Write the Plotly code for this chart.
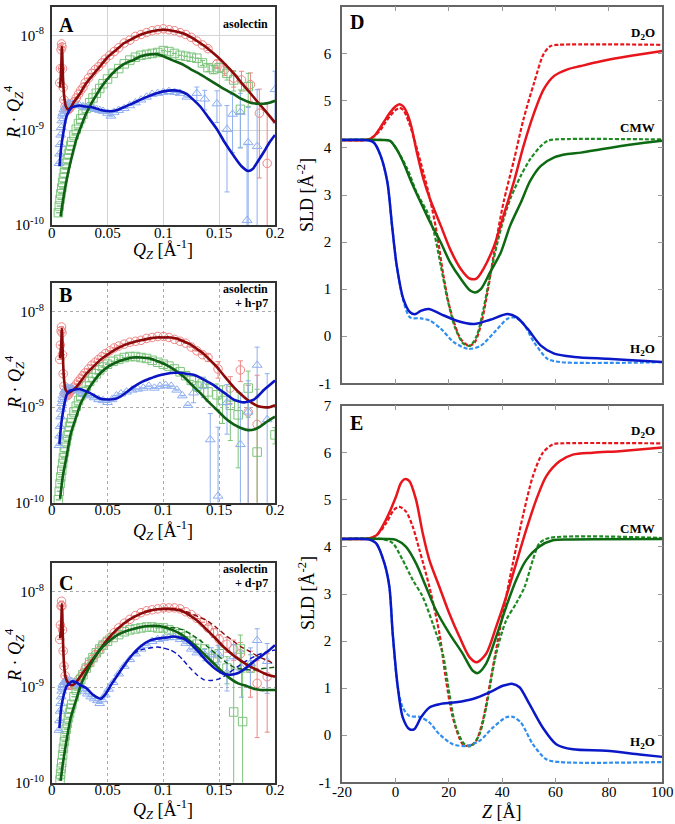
import plotly.graph_objects as go

FONT = "Liberation Serif"
W, H = 675, 824

# ------------------------------------------------------------------
# Reflectivity data: values are log10(R*Qz^4); errors are linear, in units of 1e-9
# ------------------------------------------------------------------
q_red = [0.0072, 0.0078, 0.0084, 0.0088, 0.0092, 0.0097, 0.0103, 0.011, 0.012, 0.013,
         0.014, 0.015, 0.016, 0.018, 0.020, 0.022, 0.024, 0.026, 0.028, 0.030,
         0.033, 0.036, 0.039, 0.042, 0.045, 0.048, 0.052, 0.056, 0.060, 0.065,
         0.070, 0.075, 0.080, 0.085, 0.090, 0.095, 0.100, 0.105, 0.110, 0.115,
         0.120, 0.125, 0.130, 0.135]

# ---- Panel A (asolectin)
a_red_v = [-8.50, -8.35, -8.15, -8.09, -8.12, -8.35, -8.55, -8.68, -8.75, -8.78,
           -8.79, -8.78, -8.77, -8.74, -8.70, -8.66, -8.62, -8.58, -8.55, -8.50,
           -8.45, -8.40, -8.36, -8.33, -8.29, -8.25, -8.21, -8.17, -8.13, -8.08,
           -8.05, -8.01, -7.99, -7.97, -7.95, -7.94, -7.93, -7.94, -7.95, -7.97,
           -7.99, -8.02, -8.06, -8.10]
a_red_tq = [0.140, 0.148, 0.155, 0.163, 0.170, 0.178, 0.186, 0.193]
a_red_tv = [-8.14, -8.30, -8.36, -8.45, -8.47, -8.52, -8.82, -9.35]
a_red_te = [0.3, 0.5, 0.6, 0.7, 0.8, 1.0, 1.2, 1.5]

a_grn_q = [0.006, 0.0068, 0.0075, 0.0082, 0.009, 0.0098, 0.0105, 0.0113, 0.012, 0.013,
           0.014, 0.015, 0.016, 0.017, 0.018, 0.020, 0.022, 0.024, 0.026, 0.028,
           0.031, 0.034, 0.037, 0.040, 0.043, 0.046, 0.050, 0.055, 0.060, 0.065,
           0.070, 0.075, 0.080, 0.085, 0.090, 0.095, 0.100, 0.105, 0.110, 0.115,
           0.120, 0.125, 0.130]
a_grn_v = [-9.87, -9.80, -9.73, -9.67, -9.61, -9.55, -9.50, -9.45, -9.41, -9.35,
           -9.30, -9.25, -9.21, -9.16, -9.12, -9.05, -8.99, -8.93, -8.88, -8.83,
           -8.77, -8.71, -8.66, -8.61, -8.56, -8.51, -8.46, -8.40, -8.35, -8.30,
           -8.26, -8.23, -8.21, -8.20, -8.19, -8.18, -8.16, -8.17, -8.19, -8.21,
           -8.22, -8.23, -8.24]
a_grn_tq = [0.135, 0.140, 0.145, 0.150, 0.157, 0.163, 0.169, 0.176]
a_grn_tv = [-8.29, -8.34, -8.36, -8.34, -8.40, -8.47, -8.78, -8.54]
a_grn_te = [0.3, 0.4, 0.4, 0.5, 0.6, 0.8, 1.0, 1.1]

a_blu_q = [0.0065, 0.007, 0.0075, 0.008, 0.0085, 0.009, 0.0095, 0.010, 0.011, 0.012,
           0.013, 0.014, 0.015, 0.016, 0.018, 0.020, 0.022, 0.025, 0.028, 0.031,
           0.034, 0.037, 0.040, 0.043, 0.046, 0.050, 0.053, 0.056, 0.060, 0.065,
           0.070, 0.075, 0.080, 0.085, 0.090, 0.095, 0.100, 0.105, 0.110, 0.115,
           0.121]
a_blu_v = [-9.35, -9.25, -9.15, -9.05, -8.97, -8.90, -8.85, -8.82, -8.78, -8.76,
           -8.74, -8.73, -8.72, -8.72, -8.72, -8.73, -8.73, -8.74, -8.75, -8.76,
           -8.76, -8.77, -8.78, -8.79, -8.80, -8.82, -8.85, -8.81, -8.79, -8.77,
           -8.74, -8.71, -8.68, -8.65, -8.62, -8.61, -8.60, -8.59, -8.60, -8.61,
           -8.65]
a_blu_tq = [0.130, 0.137, 0.148, 0.157, 0.162, 0.169, 0.175, 0.176, 0.184, 0.200]
a_blu_tv = [-8.61, -8.67, -8.72, -8.99, -8.83, -8.81, -9.95, -9.13, -9.17, -8.57]
a_blu_te = [0.4, 0.5, 0.7, 0.8, 0.9, 0.9, 0.6, 1.0, 2.0, 1.5]

a_red_fq = [0.0075, 0.0085, 0.0090, 0.0093, 0.0098, 0.0110, 0.0125, 0.0145, 0.017, 0.020,
            0.025, 0.030, 0.036, 0.043, 0.050, 0.058, 0.065, 0.073, 0.080, 0.088,
            0.095, 0.100, 0.108, 0.118, 0.125, 0.133, 0.140, 0.148, 0.155, 0.163,
            0.170, 0.178, 0.185, 0.193, 0.200]
a_red_fv = [-8.55, -8.35, -8.15, -8.12, -8.35, -8.62, -8.74, -8.78, -8.76, -8.70,
            -8.62, -8.52, -8.43, -8.33, -8.23, -8.15, -8.08, -8.03, -7.99, -7.96,
            -7.945, -7.94, -7.95, -7.98, -8.02, -8.08, -8.14, -8.22, -8.30, -8.40,
            -8.50, -8.61, -8.71, -8.82, -8.92]
a_grn_fq = [0.008, 0.010, 0.0134, 0.016, 0.022, 0.026, 0.031, 0.043, 0.050, 0.058,
            0.065, 0.073, 0.080, 0.088, 0.095, 0.100, 0.108, 0.118, 0.125, 0.133,
            0.140, 0.148, 0.155, 0.163, 0.170, 0.178, 0.185, 0.190, 0.195, 0.200]
a_grn_fv = [-9.91, -9.75, -9.52, -9.38, -9.10, -8.97, -8.82, -8.57, -8.46, -8.36,
            -8.30, -8.26, -8.22, -8.20, -8.20, -8.22, -8.26, -8.31, -8.36, -8.41,
            -8.46, -8.52, -8.57, -8.62, -8.67, -8.71, -8.72, -8.72, -8.71, -8.69]
a_blu_fq = [0.007, 0.0085, 0.0104, 0.0120, 0.0134, 0.016, 0.018, 0.025, 0.030, 0.037,
            0.045, 0.052, 0.058, 0.064, 0.072, 0.079, 0.087, 0.094, 0.100, 0.109,
            0.115, 0.121, 0.127, 0.133, 0.140, 0.148, 0.155, 0.163, 0.170, 0.176,
            0.180, 0.184, 0.190, 0.195, 0.200]
a_blu_fv = [-9.38, -9.18, -9.03, -8.92, -8.85, -8.79, -8.76, -8.74, -8.75, -8.76,
            -8.79, -8.80, -8.79, -8.76, -8.72, -8.68, -8.64, -8.61, -8.59, -8.58,
            -8.59, -8.62, -8.68, -8.75, -8.86, -8.99, -9.13, -9.27, -9.38, -9.43,
            -9.41, -9.34, -9.23, -9.13, -9.05]

# ---- Panel B (asolectin + h-p7)
b_red_v = [-8.50, -8.35, -8.20, -8.16, -8.22, -8.45, -8.65, -8.78, -8.85, -8.87,
           -8.88, -8.87, -8.85, -8.82, -8.79, -8.76, -8.73, -8.70, -8.67, -8.64,
           -8.60, -8.56, -8.53, -8.50, -8.47, -8.44, -8.41, -8.38, -8.36, -8.34,
           -8.32, -8.31, -8.30, -8.28, -8.27, -8.26, -8.26, -8.27, -8.29, -8.31,
           -8.33, -8.37, -8.41, -8.45]
b_red_tq = [0.140, 0.149, 0.160, 0.169, 0.176, 0.184]
b_red_tv = [-8.48, -8.60, -8.80, -8.61, -9.05, -9.18]
b_red_te = [0.3, 0.5, 0.5, 0.6, 0.8, 1.5]

b_grn_q = [0.006, 0.0068, 0.0075, 0.0082, 0.009, 0.0098, 0.0105, 0.0113, 0.012, 0.013,
           0.014, 0.015, 0.016, 0.017, 0.018, 0.020, 0.022, 0.024, 0.026, 0.028,
           0.031, 0.034, 0.037, 0.040, 0.043, 0.046, 0.050, 0.055, 0.060, 0.065,
           0.070, 0.075, 0.080, 0.085, 0.090, 0.095, 0.100, 0.105, 0.110, 0.115,
           0.120, 0.125]
b_grn_v = [-9.97, -9.88, -9.80, -9.73, -9.66, -9.59, -9.53, -9.47, -9.42, -9.36,
           -9.30, -9.25, -9.20, -9.16, -9.12, -9.05, -8.99, -8.93, -8.88, -8.84,
           -8.78, -8.73, -8.69, -8.65, -8.61, -8.58, -8.55, -8.52, -8.50, -8.48,
           -8.47, -8.47, -8.48, -8.49, -8.51, -8.53, -8.55, -8.57, -8.60, -8.63,
           -8.67, -8.72]
b_grn_tq = [0.130, 0.135, 0.140, 0.148, 0.153, 0.160, 0.167, 0.176, 0.184, 0.200]
b_grn_tv = [-8.78, -8.75, -8.84, -8.87, -8.93, -8.98, -9.08, -8.80, -9.47, -9.29]
b_grn_te = [0.2, 0.2, 0.3, 0.4, 0.5, 0.6, 0.6, 0.8, 1.2, 0.1]

b_blu_q = [0.0065, 0.007, 0.0075, 0.008, 0.0085, 0.009, 0.0095, 0.010, 0.011, 0.012,
           0.013, 0.014, 0.015, 0.017, 0.019, 0.021, 0.024, 0.027, 0.030, 0.034,
           0.038, 0.042, 0.046, 0.050, 0.054, 0.058, 0.062, 0.067, 0.072, 0.077,
           0.082, 0.087, 0.092, 0.097, 0.102, 0.107, 0.112, 0.117, 0.122]
b_blu_v = [-9.40, -9.30, -9.20, -9.10, -9.02, -8.96, -8.92, -8.88, -8.84, -8.82,
           -8.81, -8.80, -8.80, -8.80, -8.81, -8.82, -8.83, -8.85, -8.87, -8.88,
           -8.90, -8.92, -8.93, -8.95, -8.92, -8.88, -8.86, -8.84, -8.82, -8.81,
           -8.80, -8.78, -8.80, -8.78, -8.77, -8.78, -8.82, -8.88, -8.98]
b_blu_tq = [0.127, 0.136, 0.142, 0.149, 0.157, 0.169, 0.176, 0.184, 0.193]
b_blu_tv = [-8.85, -8.78, -9.34, -9.93, -8.95, -9.39, -9.05, -8.56, -9.13]
b_blu_te = [0.3, 0.4, 0.4, 0.5, 0.6, 1.0, 1.0, 1.5, 1.5]

b_red_fq = [0.0075, 0.0085, 0.0090, 0.0093, 0.0098, 0.0110, 0.0125, 0.015, 0.018, 0.022,
            0.026, 0.031, 0.037, 0.043, 0.050, 0.058, 0.065, 0.073, 0.080, 0.088,
            0.095, 0.100, 0.106, 0.112, 0.118, 0.124, 0.130, 0.136, 0.142, 0.148,
            0.155, 0.163, 0.170, 0.175, 0.180, 0.185, 0.190, 0.195, 0.200]
b_red_fv = [-8.49, -8.35, -8.20, -8.18, -8.40, -8.70, -8.82, -8.85, -8.83, -8.79,
            -8.73, -8.65, -8.58, -8.51, -8.45, -8.39, -8.35, -8.32, -8.30, -8.28,
            -8.27, -8.27, -8.27, -8.28, -8.31, -8.34, -8.39, -8.44, -8.51, -8.58,
            -8.68, -8.79, -8.87, -8.92, -8.96, -8.99, -9.00, -9.00, -8.98]
b_grn_fq = [0.0075, 0.010, 0.0134, 0.017, 0.022, 0.026, 0.031, 0.037, 0.043, 0.050,
            0.058, 0.065, 0.073, 0.080, 0.088, 0.095, 0.103, 0.110, 0.118, 0.125,
            0.133, 0.140, 0.148, 0.155, 0.163, 0.170, 0.176, 0.182, 0.187, 0.193,
            0.200]
b_grn_fv = [-9.96, -9.72, -9.51, -9.28, -9.10, -8.96, -8.85, -8.74, -8.65, -8.58,
            -8.53, -8.50, -8.48, -8.48, -8.49, -8.52, -8.56, -8.61, -8.68, -8.76,
            -8.85, -8.94, -9.03, -9.11, -9.18, -9.22, -9.24, -9.23, -9.20, -9.15,
            -9.10]
b_blu_fq = [0.0069, 0.0085, 0.0104, 0.012, 0.0134, 0.016, 0.019, 0.025, 0.030, 0.034,
            0.043, 0.052, 0.058, 0.064, 0.073, 0.080, 0.088, 0.095, 0.103, 0.110,
            0.115, 0.121, 0.127, 0.133, 0.139, 0.145, 0.151, 0.157, 0.163, 0.168,
            0.172, 0.176, 0.181, 0.186, 0.190, 0.195, 0.200]
b_blu_fv = [-9.39, -9.18, -9.03, -8.93, -8.87, -8.83, -8.82, -8.81, -8.83, -8.85,
            -8.91, -8.92, -8.91, -8.87, -8.79, -8.74, -8.70, -8.67, -8.65, -8.64,
            -8.64, -8.65, -8.66, -8.69, -8.73, -8.77, -8.82, -8.87, -8.92, -8.94,
            -8.95, -8.94, -8.92, -8.87, -8.82, -8.77, -8.72]

# ---- Panel C (asolectin + d-p7)
c_red_v = [-8.50, -8.35, -8.15, -8.10, -8.15, -8.40, -8.62, -8.78, -8.88, -8.94,
           -8.97, -8.98, -8.98, -8.98, -8.97, -8.95, -8.92, -8.89, -8.85, -8.81,
           -8.76, -8.71, -8.66, -8.62, -8.57, -8.53, -8.48, -8.43, -8.38, -8.33,
           -8.29, -8.25, -8.22, -8.20, -8.19, -8.18, -8.17, -8.17, -8.17, -8.18,
           -8.21, -8.24, -8.28, -8.32]
c_red_tq = [0.140, 0.145, 0.150, 0.157, 0.163, 0.169, 0.178, 0.184, 0.193]
c_red_tv = [-8.38, -8.43, -8.50, -8.55, -8.60, -8.65, -8.80, -8.96, -8.89]
c_red_te = [0.3, 0.4, 0.4, 0.5, 0.6, 0.7, 0.8, 0.8, 0.95]

c_grn_q = [0.0075, 0.008, 0.0085, 0.009, 0.0098, 0.0105, 0.0113, 0.012, 0.013, 0.014,
           0.015, 0.016, 0.017, 0.018, 0.020, 0.022, 0.024, 0.026, 0.028, 0.031,
           0.034, 0.037, 0.040, 0.043, 0.046, 0.050, 0.055, 0.060, 0.065, 0.070,
           0.075, 0.080, 0.085, 0.090, 0.095, 0.100, 0.105, 0.110, 0.115, 0.120,
           0.125, 0.130, 0.137]
c_grn_v = [-9.97, -9.91, -9.85, -9.79, -9.71, -9.64, -9.57, -9.51, -9.44, -9.38,
           -9.32, -9.27, -9.22, -9.18, -9.10, -9.03, -8.97, -8.92, -8.87, -8.80,
           -8.74, -8.69, -8.64, -8.60, -8.56, -8.52, -8.48, -8.45, -8.42, -8.40,
           -8.39, -8.38, -8.37, -8.37, -8.38, -8.38, -8.40, -8.42, -8.44, -8.47,
           -8.52, -8.55, -8.60]
c_grn_tq = [0.145, 0.150, 0.157, 0.163, 0.169, 0.171, 0.178]
c_grn_tv = [-8.70, -8.65, -8.80, -9.26, -8.60, -9.36, -8.80]
c_grn_te = [0.3, 0.4, 0.5, 1.0, 1.0, 1.0, 0.6]

c_blu_q = [0.0065, 0.007, 0.0075, 0.008, 0.0085, 0.009, 0.0095, 0.010, 0.011, 0.012,
           0.013, 0.014, 0.016, 0.018, 0.020, 0.022, 0.024, 0.026, 0.028, 0.030,
           0.032, 0.035, 0.038, 0.041, 0.043, 0.045, 0.048, 0.051, 0.055, 0.060,
           0.065, 0.070, 0.075, 0.080, 0.085, 0.090, 0.095, 0.100, 0.105, 0.110,
           0.115, 0.120, 0.125, 0.130]
c_blu_v = [-9.45, -9.35, -9.25, -9.17, -9.10, -9.04, -9.00, -8.97, -8.95, -8.94,
           -8.93, -8.93, -8.93, -8.94, -8.95, -8.96, -8.97, -8.99, -9.01, -9.04,
           -9.07, -9.10, -9.12, -9.14, -9.17, -9.13, -9.08, -9.02, -8.95, -8.86,
           -8.78, -8.71, -8.65, -8.60, -8.56, -8.52, -8.50, -8.49, -8.48, -8.48,
           -8.50, -8.54, -8.60, -8.64]
c_blu_tq = [0.137, 0.143, 0.149, 0.157, 0.163, 0.170, 0.178, 0.184, 0.193]
c_blu_tv = [-8.66, -8.66, -8.65, -8.85, -8.68, -8.80, -8.75, -8.51, -8.73]
c_blu_te = [0.3, 0.4, 0.5, 0.5, 0.7, 0.8, 0.8, 1.0, 1.0]

c_red_fq = [0.0075, 0.0085, 0.0090, 0.0093, 0.0098, 0.011, 0.0125, 0.015, 0.018, 0.021,
            0.025, 0.028, 0.033, 0.038, 0.043, 0.050, 0.058, 0.065, 0.073, 0.080,
            0.088, 0.095, 0.103, 0.112, 0.118, 0.124, 0.130, 0.139, 0.146, 0.154,
            0.162, 0.169, 0.177, 0.184, 0.193, 0.200]
c_red_fv = [-8.49, -8.35, -8.16, -8.13, -8.40, -8.75, -8.90, -8.96, -8.98, -8.96,
            -8.90, -8.85, -8.77, -8.69, -8.61, -8.50, -8.40, -8.33, -8.27, -8.23,
            -8.20, -8.185, -8.18, -8.19, -8.21, -8.25, -8.30, -8.40, -8.48, -8.58,
            -8.66, -8.72, -8.78, -8.82, -8.87, -8.89]
c_red_dq = [0.085, 0.095, 0.103, 0.112, 0.118, 0.125, 0.133, 0.140, 0.148, 0.155,
            0.163, 0.170, 0.178, 0.185, 0.193, 0.200]
c_red_dv = [-8.20, -8.185, -8.18, -8.18, -8.20, -8.23, -8.27, -8.31, -8.38, -8.45,
            -8.52, -8.58, -8.63, -8.68, -8.72, -8.76]
c_grn_fq = [0.008, 0.010, 0.0134, 0.017, 0.022, 0.026, 0.031, 0.037, 0.043, 0.050,
            0.058, 0.065, 0.073, 0.080, 0.088, 0.095, 0.100, 0.108, 0.115, 0.122,
            0.130, 0.137, 0.145, 0.152, 0.160, 0.167, 0.175, 0.182, 0.187, 0.193,
            0.200]
c_grn_fv = [-9.98, -9.80, -9.55, -9.32, -9.13, -8.98, -8.85, -8.72, -8.61, -8.53,
            -8.46, -8.42, -8.39, -8.37, -8.36, -8.36, -8.37, -8.40, -8.44, -8.50,
            -8.58, -8.66, -8.75, -8.83, -8.91, -8.96, -8.99, -9.02, -9.03, -9.03,
            -9.03]
c_grn_dq = [0.085, 0.095, 0.103, 0.110, 0.118, 0.125, 0.133, 0.140, 0.148, 0.155,
            0.163, 0.170, 0.178, 0.186, 0.193, 0.200]
c_grn_dv = [-8.36, -8.36, -8.37, -8.38, -8.40, -8.45, -8.51, -8.58, -8.66, -8.73,
            -8.79, -8.81, -8.82, -8.81, -8.80, -8.79]
c_blu_fq = [0.0069, 0.0085, 0.0104, 0.0120, 0.0134, 0.016, 0.018, 0.022, 0.026, 0.031,
            0.037, 0.041, 0.044, 0.047, 0.050, 0.054, 0.058, 0.065, 0.073, 0.080,
            0.088, 0.095, 0.103, 0.109, 0.114, 0.118, 0.125, 0.133, 0.140, 0.148,
            0.154, 0.160, 0.165, 0.169, 0.175, 0.181, 0.187, 0.193, 0.200]
c_blu_fv = [-9.43, -9.22, -9.10, -9.03, -8.99, -8.96, -8.94, -8.95, -8.98, -9.01,
            -9.08, -9.11, -9.12, -9.09, -9.04, -8.96, -8.89, -8.77, -8.65, -8.57,
            -8.51, -8.49, -8.48, -8.47, -8.48, -8.49, -8.55, -8.65, -8.74, -8.82,
            -8.86, -8.87, -8.86, -8.84, -8.79, -8.73, -8.68, -8.63, -8.56]
c_blu_dq = [0.073, 0.080, 0.088, 0.095, 0.100, 0.106, 0.112, 0.118, 0.124, 0.130,
            0.136, 0.142, 0.148, 0.154, 0.160, 0.166, 0.172, 0.178, 0.185, 0.193,
            0.200]
c_blu_dv = [-8.65, -8.61, -8.59, -8.58, -8.59, -8.61, -8.65, -8.72, -8.80, -8.87,
            -8.92, -8.93, -8.92, -8.89, -8.84, -8.79, -8.74, -8.70, -8.66, -8.63,
            -8.61]

# ------------------------------------------------------------------
# SLD profiles versus Z (Å)
# ------------------------------------------------------------------
d_red_z = [-20, -10, -8, -6, -4, -2, 0, 1.5, 3, 4.5, 6, 8, 10.5, 13, 17, 20.5, 24.5, 28, 30.5,
           33, 37, 40.5, 44.5, 48, 52, 55.5, 59.5, 64.5, 69.5, 77, 84.5, 92, 100]
d_red_s = [4.17, 4.18, 4.25, 4.40, 4.58, 4.75, 4.88, 4.93, 4.88, 4.72, 4.45, 3.92, 3.34,
           2.91, 2.35, 1.85, 1.43, 1.22, 1.23, 1.43, 1.92, 2.56, 3.30, 4.04, 4.75, 5.24,
           5.53, 5.67, 5.74, 5.84, 5.92, 5.99, 6.06]
d_red_dz = [-20, -10, -6, -4, -2, 0, 1.5, 3, 5.5, 9.5, 13, 15.5, 18, 20.5, 24.5, 27.5, 29.5,
            32, 34.5, 37, 40.5, 44.5, 48, 52, 55.5, 58, 61, 100]
d_red_ds = [4.17, 4.18, 4.35, 4.52, 4.68, 4.80, 4.85, 4.80, 4.47, 3.69, 2.91, 2.20, 1.29,
            0.58, -0.06, -0.20, -0.15, 0.23, 0.93, 1.78, 2.84, 3.76, 4.61, 5.39, 5.99,
            6.16, 6.19, 6.19]
d_grn_z = [-20, -5, -2, 0.5, 3, 5.5, 9.5, 13, 17, 20.5, 24.5, 28, 30, 32, 35.5, 39.5, 43, 47,
           50.5, 54.5, 59.5, 64.5, 69.5, 77, 84.5, 92, 100]
d_grn_s = [4.17, 4.17, 4.15, 3.97, 3.69, 3.34, 2.84, 2.42, 1.99, 1.57, 1.22, 0.97, 0.93,
           1.00, 1.36, 1.78, 2.35, 2.84, 3.30, 3.62, 3.80, 3.87, 3.90, 3.97, 4.04, 4.10, 4.15]
d_grn_dz = [-20, -5, -2, 0.5, 4.5, 8, 12, 14.5, 17, 19.5, 22.5, 25.5, 28, 30.5, 33, 35.5,
            39.5, 43, 47, 50.5, 54.5, 57, 60, 100]
d_grn_ds = [4.17, 4.17, 4.15, 3.97, 3.55, 3.05, 2.63, 2.20, 1.50, 0.79, 0.16, -0.16, -0.20,
            0.01, 0.58, 1.29, 2.28, 2.91, 3.41, 3.76, 4.04, 4.15, 4.18, 4.18]
d_blu_z = [-20, -10, -8, -5.5, -3, -1.25, 0.5, 3, 5.5, 7.5, 9.5, 12.5, 17, 23, 29.5, 35.5,
           42, 45.5, 49.5, 54.5, 59.5, 67, 79.5, 92, 100]
d_blu_s = [4.17, 4.16, 4.11, 3.83, 3.27, 2.35, 1.50, 0.79, 0.51, 0.47, 0.54, 0.58, 0.47,
           0.33, 0.26, 0.35, 0.47, 0.40, 0.16, -0.20, -0.37, -0.44, -0.48, -0.52, -0.55]
d_blu_dz = [-20, -10, -8, -5.5, -3, -1.25, 0.5, 3, 5.5, 9.5, 13, 17, 22, 27.5, 32, 37, 42,
            44.5, 47.5, 52, 57, 62, 100]
d_blu_ds = [4.17, 4.16, 4.11, 3.83, 3.27, 2.35, 1.50, 0.75, 0.40, 0.38, 0.33, 0.16, -0.13,
            -0.27, -0.20, 0.08, 0.37, 0.40, 0.30, -0.13, -0.48, -0.55, -0.55]

e_red_z = [-20, -10, -7, -3.5, 0.25, 2, 3.5, 5.25, 7.75, 10.25, 12.75, 16.5, 20.25, 24,
           27.75, 30.5, 34, 37.75, 41.5, 45.25, 49, 52.75, 56.5, 61.5, 66.5, 74, 85, 100]
e_red_s = [4.17, 4.18, 4.25, 4.58, 5.07, 5.35, 5.44, 5.40, 5.00, 4.29, 3.72, 3.15, 2.58,
           2.09, 1.66, 1.55, 1.73, 2.30, 2.94, 3.65, 4.36, 5.00, 5.50, 5.82, 5.96, 6.00,
           6.04, 6.11]
e_red_dz = [-20, -10, -7, -3.5, -0.5, 1.5, 4, 6.5, 9, 12.75, 16.5, 19, 21.5, 25.25, 27.75,
            30.25, 32.75, 36.5, 40.25, 44, 47.75, 51.5, 55.25, 59, 62, 100]
e_red_ds = [4.17, 4.18, 4.25, 4.50, 4.79, 4.85, 4.75, 4.43, 3.94, 3.15, 2.16, 1.16, 0.38,
            -0.19, -0.23, -0.12, 0.31, 1.44, 2.58, 3.65, 4.65, 5.50, 6.00, 6.18, 6.20, 6.20]
e_grn_z = [-20, -3, 0.25, 4, 7.75, 11.5, 15.25, 20.25, 25.25, 29, 30.9, 34, 37.75, 41.5,
           45.25, 49, 54, 59, 65, 100]
e_grn_s = [4.17, 4.17, 4.15, 4.00, 3.65, 3.15, 2.65, 2.16, 1.73, 1.37, 1.32, 1.52, 2.09,
           2.73, 3.30, 3.72, 4.01, 4.14, 4.16, 4.17]
e_grn_dz = [-20, -5, -1, 2.75, 6.5, 10.25, 14, 17.75, 20.25, 22.75, 25.9, 28.4, 31.5, 34,
            37.75, 41.5, 45.25, 48.4, 51.5, 54, 57.75, 100]
e_grn_ds = [4.17, 4.17, 4.08, 3.72, 3.30, 2.94, 2.37, 1.73, 0.88, 0.16, -0.19, -0.23, 0.02,
            0.59, 1.73, 2.44, 2.80, 3.15, 3.72, 4.08, 4.19, 4.19]
e_blu_z = [-20, -10, -7.25, -4.1, -2.25, -1, 0.9, 2.75, 5.25, 7.1, 9.6, 12.75, 16.5, 22.75,
           29, 35.25, 40.25, 44, 46.5, 50.25, 55.25, 60.25, 66.5, 79, 91.5, 100]
e_blu_s = [4.17, 4.16, 4.08, 3.65, 3.15, 2.16, 1.02, 0.38, 0.13, 0.13, 0.38, 0.59, 0.66,
           0.70, 0.77, 0.91, 1.05, 1.09, 1.02, 0.66, 0.16, -0.19, -0.30, -0.33, -0.41, -0.46]
e_blu_dz = [-20, -10, -7.25, -4.1, -2.25, -1, 0.9, 2.75, 5.25, 9, 12.75, 16.5, 21.5, 26.5,
            31.5, 36.5, 41.5, 44, 47, 51.5, 56.5, 61.5, 100]
e_blu_ds = [4.17, 4.16, 4.08, 3.65, 3.15, 2.16, 1.02, 0.59, 0.41, 0.39, 0.27, 0.02, -0.19,
            -0.23, -0.12, 0.16, 0.38, 0.39, 0.27, -0.19, -0.51, -0.57, -0.57]

q_ticks = [0, 0.05, 0.1, 0.15, 0.2]
q_ticktext = ["0", "0.05", "0.1", "0.15", "0.2"]
r_ticks = [1e-10, 1e-9, 1e-8]
r_ticktext = ["10<sup>-10</sup>", "10<sup>-9</sup>", "10<sup>-8</sup>"]
z_ticks = [-20, 0, 20, 40, 60, 80, 100]
z_ticktext = ["-20", "0", "20", "40", "60", "80", "100"]
sld_ticks = [-1, 0, 1, 2, 3, 4, 5, 6, 7]
sld_ticktext = ["-1", "0", "1", "2", "3", "4", "5", "6", "7"]

# ------------------------------------------------------------------
# Styles
# ------------------------------------------------------------------
M_RED, M_GRN, M_BLU = "#ef8585", "#7cc47c", "#8eaef0"
F_RED, F_GRN, F_BLU = "#8b0a0a", "#0f5f14", "#0a14c0"
S_RED, S_GRN, S_BLU = "#e8161c", "#0d6a12", "#0a18c8"
S_RED_D, S_GRN_D, S_BLU_D = "#e8161c", "#1e8a22", "#2f8ef0"

fig = go.Figure()


def px_x(x):
    return x / W


def px_y(y):
    return 1 - y / H


def add_markers(ax, q, v, tq, tv, te, color, symbol):
    xs = list(q) + list(tq)
    ys = [10 ** val for val in list(v) + list(tv)]
    errs = [0.0] * len(q) + [e * 1e-9 for e in te]
    fig.add_trace(go.Scatter(
        x=xs, y=ys, mode="markers", xaxis="x" + ax, yaxis="y" + ax,
        marker=dict(symbol=symbol, size=8.5, color=color, line=dict(width=1, color=color)),
        error_y=dict(type="data", array=errs, color=color, thickness=1, width=2.5),
        showlegend=False, hoverinfo="skip"))


def add_fit(ax, q, v, color, dash="solid", width=2.6):
    fig.add_trace(go.Scatter(
        x=q, y=[10 ** val for val in v], mode="lines", xaxis="x" + ax, yaxis="y" + ax,
        line=dict(color=color, width=width, dash=dash, shape="spline", smoothing=0.6),
        showlegend=False, hoverinfo="skip"))


def add_sld(ax, z, s, color, dash="solid", width=2.5):
    fig.add_trace(go.Scatter(
        x=z, y=s, mode="lines", xaxis="x" + ax, yaxis="y" + ax,
        line=dict(color=color, width=width, dash=dash, shape="spline", smoothing=0.8),
        showlegend=False, hoverinfo="skip"))


# Panel A
add_markers("", q_red, a_red_v, a_red_tq, a_red_tv, a_red_te, M_RED, "circle-open")
add_markers("", a_grn_q, a_grn_v, a_grn_tq, a_grn_tv, a_grn_te, M_GRN, "square-open")
add_markers("", a_blu_q, a_blu_v, a_blu_tq, a_blu_tv, a_blu_te, M_BLU, "triangle-up-open")
add_fit("", a_red_fq, a_red_fv, F_RED)
add_fit("", a_grn_fq, a_grn_fv, F_GRN)
add_fit("", a_blu_fq, a_blu_fv, F_BLU)

# Panel B
add_markers("2", q_red, b_red_v, b_red_tq, b_red_tv, b_red_te, M_RED, "circle-open")
add_markers("2", b_grn_q, b_grn_v, b_grn_tq, b_grn_tv, b_grn_te, M_GRN, "square-open")
add_markers("2", b_blu_q, b_blu_v, b_blu_tq, b_blu_tv, b_blu_te, M_BLU, "triangle-up-open")
add_fit("2", b_red_fq, b_red_fv, F_RED)
add_fit("2", b_grn_fq, b_grn_fv, F_GRN)
add_fit("2", b_blu_fq, b_blu_fv, F_BLU)

# Panel C
add_markers("3", q_red, c_red_v, c_red_tq, c_red_tv, c_red_te, M_RED, "circle-open")
add_markers("3", c_grn_q, c_grn_v, c_grn_tq, c_grn_tv, c_grn_te, M_GRN, "square-open")
add_markers("3", c_blu_q, c_blu_v, c_blu_tq, c_blu_tv, c_blu_te, M_BLU, "triangle-up-open")
add_fit("3", c_red_dq, c_red_dv, F_RED, dash="5px,3px", width=1.4)
add_fit("3", c_grn_dq, c_grn_dv, F_GRN, dash="5px,3px", width=1.4)
add_fit("3", c_blu_dq, c_blu_dv, F_BLU, dash="5px,3px", width=1.4)
add_fit("3", c_red_fq, c_red_fv, F_RED)
add_fit("3", c_grn_fq, c_grn_fv, F_GRN)
add_fit("3", c_blu_fq, c_blu_fv, F_BLU)

# Panel D
add_sld("4", d_red_dz, d_red_ds, S_RED_D, dash="4px,2px", width=2.2)
add_sld("4", d_grn_dz, d_grn_ds, S_GRN_D, dash="4px,2px", width=2.2)
add_sld("4", d_blu_dz, d_blu_ds, S_BLU_D, dash="4px,2px", width=2.2)
add_sld("4", d_red_z, d_red_s, S_RED)
add_sld("4", d_grn_z, d_grn_s, S_GRN)
add_sld("4", d_blu_z, d_blu_s, S_BLU)

# Panel E
add_sld("5", e_red_dz, e_red_ds, S_RED_D, dash="4px,2px", width=2.2)
add_sld("5", e_grn_dz, e_grn_ds, S_GRN_D, dash="4px,2px", width=2.2)
add_sld("5", e_blu_dz, e_blu_ds, S_BLU_D, dash="4px,2px", width=2.2)
add_sld("5", e_red_z, e_red_s, S_RED)
add_sld("5", e_grn_z, e_grn_s, S_GRN)
add_sld("5", e_blu_z, e_blu_s, S_BLU)

# ------------------------------------------------------------------
# Axes
# ------------------------------------------------------------------
tickfont = dict(family=FONT, size=15, color="black")
xd_left = [px_x(51.7), px_x(275)]
xd_right = [px_x(342), px_x(662.3)]


def refl_axes(griddash, gridcolor):
    xa = dict(range=[0, 0.2], tickvals=q_ticks, ticktext=q_ticktext, ticks="", ticklen=0,
              showline=True, mirror=True, linecolor="#333", linewidth=1.5,
              showgrid=True, gridcolor=gridcolor, griddash=griddash, gridwidth=1,
              zeroline=False, tickfont=tickfont, domain=xd_left, automargin=False,
              ticklabelstandoff=-7)
    ya = dict(type="log", range=[-10, -7.70], tickvals=r_ticks, ticktext=r_ticktext,
              ticks="", ticklen=0, showline=True, mirror=True, linecolor="#333",
              linewidth=1.5, showgrid=True, gridcolor=gridcolor, griddash=griddash,
              gridwidth=1, zeroline=False, tickfont=tickfont, ticklabelstandoff=3,
              automargin=False)
    return xa, ya


def sld_axes(show_x_labels):
    xa = dict(range=[-20, 100], tickvals=z_ticks, ticktext=z_ticktext, ticks="inside",
              ticklen=5, tickcolor="#999", tickwidth=1, mirror="allticks", showline=True,
              linecolor="#666", linewidth=1.5, showgrid=False, zeroline=False,
              showticklabels=show_x_labels, tickfont=tickfont, domain=xd_right,
              automargin=False, ticklabelstandoff=-5)
    ya = dict(range=[-1, 7], tickvals=sld_ticks, ticktext=sld_ticktext, ticks="inside",
              ticklen=5, tickcolor="#999", tickwidth=1, mirror="allticks", showline=True,
              linecolor="#666", linewidth=1.5, showgrid=False, zeroline=False,
              tickfont=tickfont, ticklabelstandoff=6, automargin=False)
    return xa, ya


xa, ya = refl_axes("solid", "#d4d4d4")
fig.update_layout(xaxis=dict(xa, anchor="y"),
                  yaxis=dict(ya, anchor="x", domain=[px_y(225), px_y(7)]))
xa, ya = refl_axes("dot", "#aaaaaa")
fig.update_layout(xaxis2=dict(xa, anchor="y2"),
                  yaxis2=dict(ya, anchor="x2", domain=[px_y(502.7), px_y(283)]))
xa, ya = refl_axes("dot", "#aaaaaa")
fig.update_layout(xaxis3=dict(xa, anchor="y3"),
                  yaxis3=dict(ya, anchor="x3", domain=[px_y(782.7), px_y(563)]))
xa, ya = sld_axes(False)
fig.update_layout(xaxis4=dict(xa, anchor="y4"),
                  yaxis4=dict(ya, anchor="x4", domain=[px_y(383.3), px_y(6.7)]))
xa, ya = sld_axes(True)
fig.update_layout(xaxis5=dict(xa, anchor="y5"),
                  yaxis5=dict(ya, anchor="x5", domain=[px_y(782.3), px_y(405.7)]))

# ------------------------------------------------------------------
# Text
# ------------------------------------------------------------------
ann = []


def text(x, y, s, size, xanchor="center", yanchor="middle", angle=0, bold=False):
    if bold:
        s = "<b>" + s + "</b>"
    ann.append(dict(x=px_x(x), y=px_y(y), xref="paper", yref="paper", text=s,
                    showarrow=False, xanchor=xanchor, yanchor=yanchor, textangle=angle,
                    font=dict(family=FONT, size=size, color="black")))


ytitle = "<i>R</i> · <i>Q</i><sub><i>Z</i></sub><sup>4</sup>"
xtitle = "<i>Q</i><sub><i>Z</i></sub> [Å<sup>-1</sup>]"
for yc in (112, 382, 655):
    text(14, yc, ytitle, 18, angle=-90)
for yc in (250, 530, 809):
    text(163, yc, xtitle, 18)
text(306, 195, "SLD [Å<sup>-2</sup>]", 18, angle=-90)
text(306, 593, "SLD [Å<sup>-2</sup>]", 18, angle=-90)
text(502, 812, "<i>Z</i> [Å]", 18)

text(57, 25, "A", 20, xanchor="left", bold=True)
text(57, 295, "B", 20, xanchor="left", bold=True)
text(57, 583, "C", 20, xanchor="left", bold=True)
text(348, 22, "D", 20, xanchor="left", bold=True)
text(348, 423, "E", 20, xanchor="left", bold=True)

text(270, 24, "asolectin", 12, xanchor="right", bold=True)
text(270, 289, "asolectin", 12, xanchor="right", bold=True)
text(270, 303, "+ h-p7", 12, xanchor="right", bold=True)
text(270, 569, "asolectin", 12, xanchor="right", bold=True)
text(270, 583, "+ d-p7", 12, xanchor="right", bold=True)

for (yd2o, ycmw, yh2o) in ((33, 128, 349), (431, 528, 742)):
    text(657, yd2o, "D<sub>2</sub>O", 13, xanchor="right", bold=True)
    text(657, ycmw, "CMW", 13, xanchor="right", bold=True)
    text(657, yh2o, "H<sub>2</sub>O", 13, xanchor="right", bold=True)

fig.update_layout(
    annotations=ann,
    width=W, height=H,
    margin=dict(l=0, r=0, t=0, b=0, autoexpand=False),
    paper_bgcolor="white", plot_bgcolor="white",
    font=dict(family=FONT, size=15, color="black"),
    showlegend=False,
)

fig.write_html("out.html",
               config={"displayModeBar": False},
               post_script="document.body.style.margin='0px';"
                           "document.body.style.overflow='hidden';")
